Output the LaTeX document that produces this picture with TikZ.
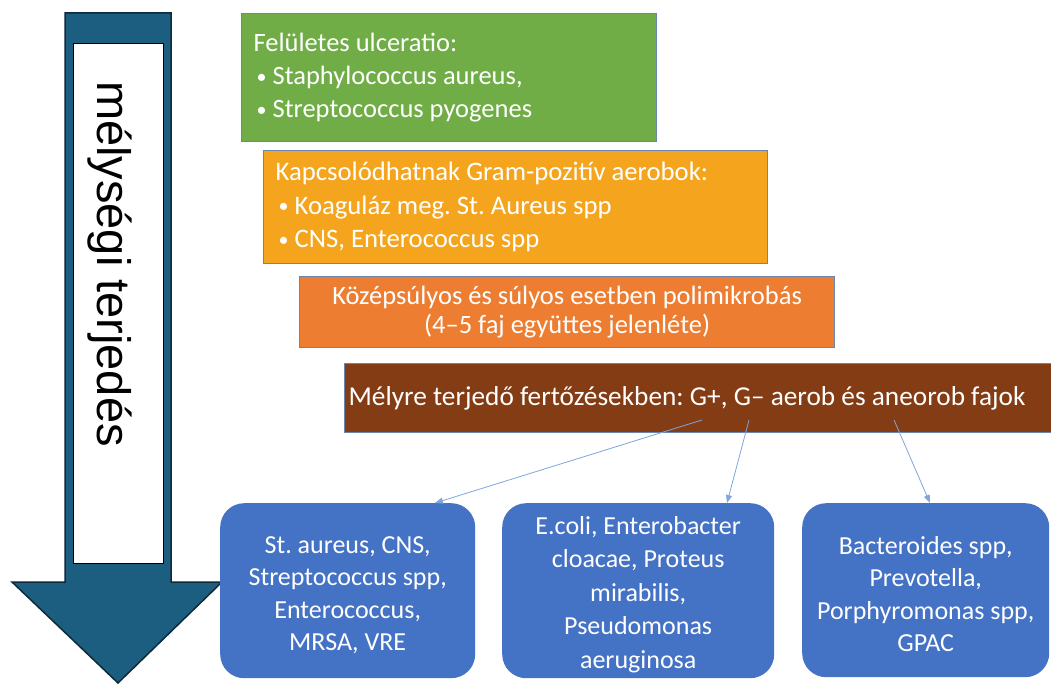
\documentclass[tikz,border=0pt]{standalone}
\usepackage{fontspec}
\setmainfont{Carlito}
\newfontfamily\arialf{Liberation Sans}
\usetikzlibrary{arrows.meta}
\definecolor{cgreen}{HTML}{70AD47}
\definecolor{corange}{HTML}{F5A51D}
\definecolor{cdorange}{HTML}{ED7D31}
\definecolor{cbrown}{HTML}{843C15}
\definecolor{cblue}{HTML}{4472C4}
\definecolor{cedge}{HTML}{6A86B0}
\definecolor{carrow}{HTML}{1B5E7F}
\definecolor{carrowedge}{HTML}{0E2A3A}
\definecolor{cline}{HTML}{7EA6DA}
\newcommand{\bul}{\hspace*{3pt}\makebox[16pt][l]{\raisebox{1.5pt}{\fontsize{20}{20}\selectfont •}}}
\newcommand{\nsp}{\spaceskip=0pt\xspaceskip=0pt\relax}
\newcommand{\topstrut}{\rule{0pt}{26pt}}
\begin{document}
\frenchspacing
\begin{tikzpicture}[x=1pt,y=-1pt,
  tbox/.style={draw=cedge, line width=1.2pt, text=white, inner sep=0pt, anchor=north west},
  bbox/.style={fill=cblue, rounded corners=24pt, text=white, align=center, inner sep=0pt,
    anchor=north west, font=\fontsize{26}{32.5}\selectfont},
  conn/.style={draw=cline, line width=0.8pt, -{Triangle[length=8pt,width=6pt]}}
]
\useasboundingbox (0,0) rectangle (1051,684);

% big arrow
\draw[fill=carrow, draw=carrowedge, line width=1.5pt]
  (65,13) -- (171,13) -- (171,582) -- (222,582) -- (118,683) -- (12,582) -- (65,582) -- cycle;
\node[draw=black, fill=white, line width=1.2pt, minimum width=90pt, minimum height=520pt,
  inner sep=0pt, anchor=north west] (wbox) at (73,43) {};
\node[rotate=-90, inner sep=0pt, font=\arialf\fontsize{47}{47}\selectfont] (vt) at (110,264) {mélységi terjedés};

% stacked boxes
\node[tbox, fill=cgreen, minimum width=415pt, minimum height=128pt, text width=391pt,
  align=left, font=\fontsize{26.5}{33}\selectfont] (green) at (241,13)
  {\nsp Felületes ulceratio:\\\bul Staphylococcus aureus,\\\bul Streptococcus pyogenes};
\node[tbox, fill=corange, minimum width=504pt, minimum height=113pt, text width=480pt,
  align=left, font=\fontsize{26.7}{33.5}\selectfont] (orange) at (263,150)
  {\nsp Kapcsolódhatnak Gram-pozitív aerobok:\\\bul Koaguláz meg. St. Aureus spp\\\bul CNS, Enterococcus spp};
\node[tbox, fill=cdorange, minimum width=535pt, minimum height=71pt,
  align=center, font=\fontsize{26.5}{29}\selectfont] (dorange) at (299,276)
  {Középsúlyos és súlyos esetben polimikrobás\\(4–5 faj együttes jelenléte)};
\node[tbox, fill=cbrown, minimum width=716pt, minimum height=69pt, text width=708pt,
  align=left, font=\fontsize{27.3}{30}\selectfont] (brown) at (344,363)
  {\nsp Mélyre terjedő fertőzésekben: G+, G– aerob és aneorob fajok};

% bottom boxes
\node[bbox, minimum width=255pt, minimum height=175pt] (b1) at (220,503)
  {\topstrut St. aureus, CNS,\\Streptococcus spp,\\Enterococcus,\\MRSA, VRE};
\node[bbox, minimum width=272pt, minimum height=175pt, font=\fontsize{26}{33.5}\selectfont] (b2) at (502,503)
  {\topstrut E.coli, Enterobacter\\cloacae, Proteus\\mirabilis,\\Pseudomonas\\aeruginosa};
\node[bbox, minimum width=247pt, minimum height=174pt] (b3) at (802,503)
  {\topstrut Bacteroides spp,\\Prevotella,\\Porphyromonas spp,\\GPAC};

% connectors
\coordinate (s1) at (702,420);
\coordinate (s2) at (749,420);
\coordinate (s3) at (894,420);
\coordinate (e1) at (435,503);
\coordinate (e2) at (727,503);
\coordinate (e3) at (930,503);
\draw[conn] (s1) -- (e1);
\draw[conn] (s2) -- (e2);
\draw[conn] (s3) -- (e3);
\end{tikzpicture}
\end{document}
